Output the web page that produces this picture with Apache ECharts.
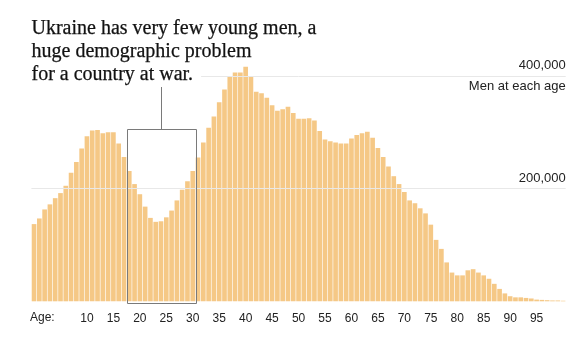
<!DOCTYPE html>
<html>
<head>
<meta charset="utf-8">
<script src="https://cdn.jsdelivr.net/npm/echarts@6/dist/echarts.min.js"></script>
<style>
  html, body { margin: 0; padding: 0; background: #fff; }
  #chart { width: 574px; height: 338px; }
</style>
</head>
<body>
<div id="chart"></div>
<script>
// Ukrainian men by single year of age, 0 to 100
const ages = Array.from({ length: 101 }, (_, i) => String(i));
const men = [
  137000, 147000, 163000, 172000, 183000, 192000, 205000, 228000, 247000, 271000,
  293000, 303000, 304000, 298000, 300000, 300000, 280000, 256000, 231000, 208000,
  190000, 168000, 148000, 141000, 142000, 149000, 161000, 179000, 198000, 213000,
  231000, 255000, 282000, 308000, 328000, 353000, 376000, 399000, 406000, 406000,
  416000, 399000, 372000, 369000, 361000, 348000, 338000, 341000, 345000, 334000,
  324000, 324000, 325000, 321000, 302000, 287000, 284000, 282000, 280000, 280000,
  289000, 295000, 298000, 301000, 290000, 272000, 256000, 239000, 222000, 208000,
  194000, 179000, 174000, 165000, 156000, 136000, 109000, 93000, 69000, 51000,
  46000, 46000, 55000, 57000, 51000, 46000, 40000, 31000, 22000, 14000,
  9000, 7000, 7000, 6000, 5000, 3000, 2500, 2000, 1500, 1500,
  1000
];
const gridValues = [200000, 400000];
const ageTickLabels = [10, 15, 20, 25, 30, 35, 40, 45, 50, 55, 60, 65, 70, 75, 80, 85, 90, 95];
// highlighted band of young men (ages 18 to 30)
const youngRange = ['18', '30'];
const youngBoxTop = 305000;

const titleLines = [
  'Ukraine has very few young men, a',
  'huge demographic problem',
  'for a country at war.'
];

const SANS = '"Liberation Sans", Arial, sans-serif';
const SERIF = '"Liberation Serif", "Times New Roman", serif';

const chart = echarts.init(document.getElementById('chart'), null, { renderer: 'canvas' });

const fmt = v => v.toLocaleString('en-US');

const labelBase = { fontFamily: SANS, fontSize: 13, color: '#222' };

chart.setOption({
  animation: false,
  backgroundColor: '#fff',
  grid: { left: 31.4, right: 8.3, top: 47.7, bottom: 36.7, containLabel: false },
  xAxis: {
    type: 'category',
    data: ages,
    axisLine: { show: false },
    axisTick: { show: false },
    axisLabel: {
      interval: 0,
      margin: 11,
      fontFamily: SANS,
      fontSize: 12,
      color: '#222',
      formatter: v => (ageTickLabels.indexOf(Number(v)) >= 0 ? v : '')
    },
    splitLine: { show: false }
  },
  yAxis: {
    type: 'value',
    min: 0,
    max: 450000,
    axisLine: { show: false },
    axisTick: { show: false },
    axisLabel: { show: false },
    splitLine: { show: false }
  },
  series: [
    {
      // gridlines drawn behind the bars
      type: 'line',
      data: [],
      z: 1,
      silent: true,
      markLine: {
        silent: true,
        symbol: 'none',
        animation: false,
        lineStyle: { color: '#e8e8e8', width: 1, type: 'solid' },
        label: Object.assign({
          position: 'insideEndTop',
          distance: [0, 4],
          formatter: p => fmt(p.value)
        }, labelBase),
        data: gridValues.map(v => ({ yAxis: v })).concat([{
          yAxis: 400000,
          lineStyle: { color: 'rgba(255,255,255,0)', width: 1 },
          label: Object.assign({
            position: 'insideEndBottom',
            distance: [0, 4],
            formatter: 'Men at each age'
          }, labelBase)
        }])
      }
    },
    {
      type: 'bar',
      data: men,
      z: 2,
      barCategoryGap: '12%',
      itemStyle: { color: '#F5C886' },
      silent: true
    }
  ]
});

// annotation box around the young-men dip, placed through the axis scales
const c18 = chart.convertToPixel({ xAxisIndex: 0 }, youngRange[0]);
const c19 = chart.convertToPixel({ xAxisIndex: 0 }, String(Number(youngRange[0]) + 1));
const c30 = chart.convertToPixel({ xAxisIndex: 0 }, youngRange[1]);
const band = c19 - c18;
const boxLeft = c18 - band / 2;
const boxRight = c30 + band / 2;
const boxTop = chart.convertToPixel({ yAxisIndex: 0 }, youngBoxTop);
const boxBottom = chart.convertToPixel({ yAxisIndex: 0 }, 0) + 2;
const boxMid = (boxLeft + boxRight) / 2;

const titleTop = [19, 42, 65];

chart.setOption({
  graphic: [
    {
      type: 'rect',
      z: 50,
      silent: true,
      shape: { x: Math.round(boxLeft) + 0.5, y: Math.round(boxTop) + 0.5, width: Math.round(boxRight - boxLeft), height: Math.round(boxBottom - boxTop) },
      style: { fill: 'none', stroke: '#7a7a7a', lineWidth: 1 }
    },
    {
      type: 'line',
      z: 50,
      silent: true,
      shape: { x1: Math.round(boxMid) + 0.5, y1: Math.round(boxTop) + 0.5, x2: Math.round(boxMid) + 0.5, y2: 87 },
      style: { stroke: '#7a7a7a', lineWidth: 1 }
    },
    {
      type: 'text',
      x: 30,
      y: 312,
      z: 60,
      silent: true,
      style: { text: 'Age:', font: '12px ' + SANS, fill: '#222', textVerticalAlign: 'top' }
    }
  ].concat(titleLines.map((t, i) => ({
    type: 'text',
    x: 31.5,
    y: titleTop[i],
    z: 100,
    silent: true,
    style: {
      text: t,
      font: '20px ' + SERIF,
      fill: '#121212',
      stroke: '#121212',
      lineWidth: 0.25,
      textVerticalAlign: 'top',
      backgroundColor: i === titleLines.length - 1 ? '#fff' : null,
      padding: i === titleLines.length - 1 ? [0, 8, 0, 0] : 0
    }
  })))
});
</script>
</body>
</html>
